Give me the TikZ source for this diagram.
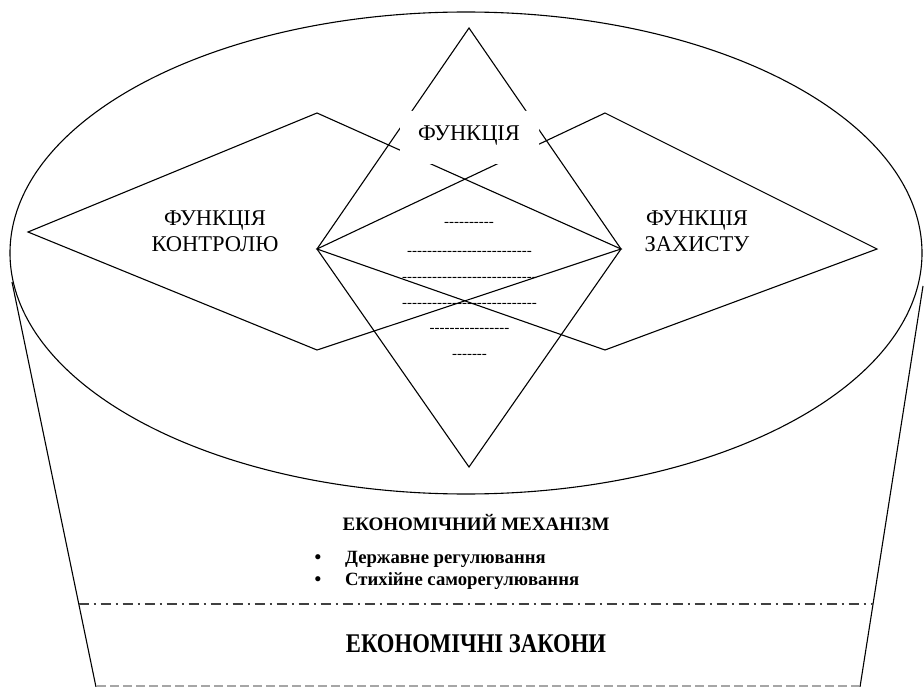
\documentclass[tikz,border=0pt]{standalone}
\usepackage{fontspec}
\setmainfont{Liberation Serif}
\usetikzlibrary{shapes.geometric}
\newcommand\hyrun[1]{\foreach \k in {1,...,#1}{-\kern0pt}}
\begin{document}
\begin{tikzpicture}[x=1pt,y=-1pt,
  ln/.style={line width=1.1pt, line join=miter},
  lbl/.style={font=\fontsize{22.5}{26}\selectfont, inner sep=0pt, anchor=base},
  dsh/.style={font=\fontsize{15}{18}\selectfont, inner sep=0pt, anchor=base},
  bt/.style={font=\bfseries\fontsize{19}{23}\selectfont, inner sep=0pt, anchor=base},
  itm/.style={font=\bfseries\fontsize{18.7}{22}\selectfont, inner sep=0pt, anchor=base west},
  bul/.style={font=\bfseries\fontsize{19}{22}\selectfont, inner sep=0pt, anchor=base},
  big/.style={font=\bfseries\fontsize{27}{31}\selectfont, inner sep=0pt, anchor=base},
  dashdot/.style={draw=black!75, line width=1.6pt, dash pattern=on 10pt off 5pt on 2pt off 5pt},
  lowdash/.style={draw=black!35, line width=1.3pt, dash pattern=on 9pt off 4pt}]
\useasboundingbox (0,0) rectangle (924,687);

% top ellipse
\node[ellipse, draw, line width=1.1pt, minimum width=912pt, minimum height=482pt, inner sep=0pt] (top) at (466,253) {};

% side lines
\coordinate (SL1) at (12,282);
\coordinate (SL2) at (96,687);
\coordinate (SR1) at (923,286);
\coordinate (SR2) at (860,687);
\draw[ln] (SL1) -- (SL2);
\draw[ln] (SR1) -- (SR2);

% dividing lines
\coordinate (DL) at (78.5,604);
\coordinate (DR) at (873,604);
\draw[dashdot] (DL) -- (DR);
\coordinate (BL) at (97,686);
\coordinate (BR) at (859,686);
\draw[lowdash] (BL) -- (BR);

% diamond vertices
\coordinate (LL) at (28,232);
\coordinate (LT) at (317,113);
\coordinate (LB) at (317,350);
\coordinate (CL) at (317,249);
\coordinate (CR) at (621,249);
\coordinate (CT) at (469,28);
\coordinate (CB) at (469,467);
\coordinate (RT) at (605,113);
\coordinate (RB) at (605,350);
\coordinate (RR) at (877,249);

\draw[ln] (LL) -- (LT) -- (CR) -- (LB) -- cycle;
\draw[ln] (RR) -- (RT) -- (CL) -- (RB) -- cycle;
\draw[ln] (CT) -- (CR) -- (CB) -- (CL) -- cycle;

% white label box on top
\node[fill=white, rounded corners=10pt, minimum width=139pt, minimum height=53pt, inner sep=0pt] (fbox) at (469.5,137.5) {};
\node[lbl] (ftop) at (469,141) {ФУНКЦІЯ};

% side labels
\node[lbl] (lk1) at (215,226) {ФУНКЦІЯ};
\node[lbl] (lk2) at (215,252) {КОНТРОЛЮ};
\node[lbl] (rz1) at (697,226) {ФУНКЦІЯ};
\node[lbl] (rz2) at (697,252) {ЗАХИСТУ};

% centre dashes
\node[dsh] (d1) at (469,227) {\hyrun{10}};
\node[dsh] (d2) at (469.5,255) {\hyrun{25}};
\node[dsh] (d3) at (469.5,281) {\hyrun{27}};
\node[dsh] (d4) at (469.5,307) {\hyrun{27}};
\node[dsh] (d5) at (469.5,332) {\hyrun{16}};
\node[dsh] (d6) at (469.5,358) {\hyrun{7}};

% lower texts
\node[bt] (em) at (476,530) {ЕКОНОМІЧНИЙ МЕХАНІЗМ};
\node[bul] (b1) at (318,563) {•};
\node[itm] (i1) at (345,563) {Державне регулювання};
\node[bul] (b2) at (318,585) {•};
\node[itm] (i2) at (345,585) {Стихійне саморегулювання};
\node[big] (ez) at (476,652) {\scalebox{0.84}[1]{ЕКОНОМІЧНІ ЗАКОНИ}};
\end{tikzpicture}
\end{document}
